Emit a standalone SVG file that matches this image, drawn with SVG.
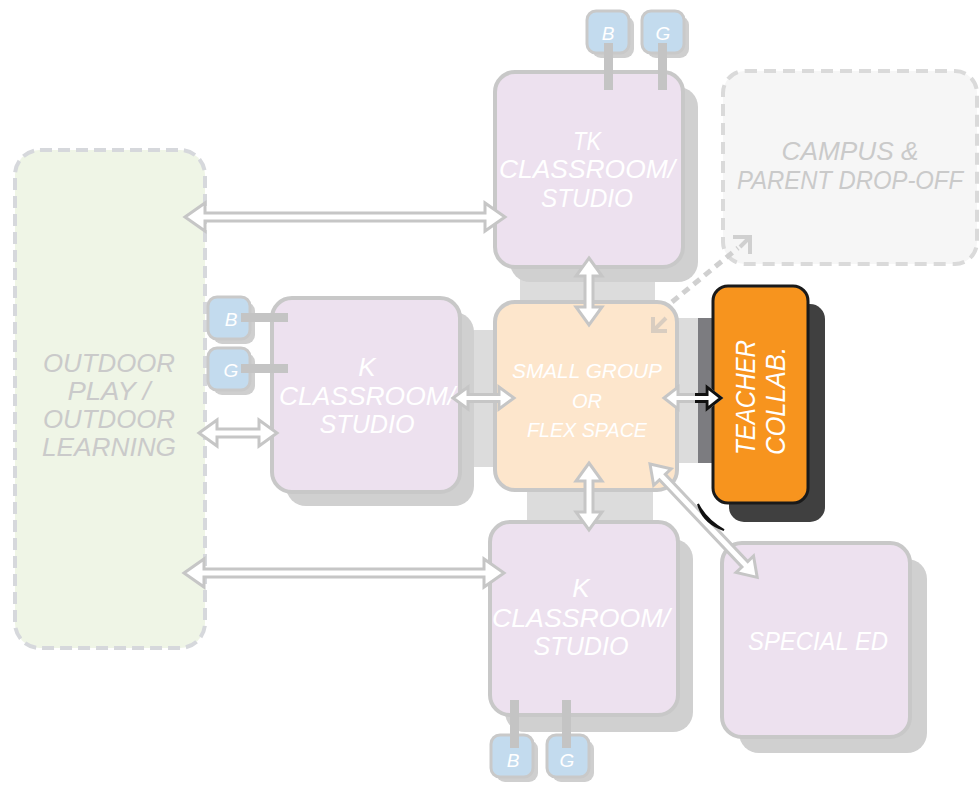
<svg xmlns="http://www.w3.org/2000/svg" width="979" height="786" viewBox="0 0 979 786">
<style>
text{font-family:"Liberation Sans",Arial,sans-serif;font-style:italic;text-anchor:middle}
.room{fill:#ede1ef;stroke:#c8c8c8;stroke-width:4}
.shadow{fill:#d0d0d0}
.wt{fill:#ffffff;font-size:26px}
.sg{fill:#ffffff;font-size:21px}
.corr{fill:#dcdcdc}
.arr{fill:#ffffff;stroke:#c6c6c6;stroke-width:3;stroke-linejoin:miter}
.badge{fill:#c3dbee;stroke:#c9c9c9;stroke-width:3}
.bsh{fill:#cfcfcf}
.stem{fill:#c4c4c4}
.bl{fill:#ffffff;font-size:19px}
.gt{fill:#cacaca;font-size:26px}
</style>
<rect width="979" height="786" fill="#ffffff"/>

<g id="corridors">
<rect class="corr" x="520" y="262" width="135" height="42"/>
<rect class="corr" x="527" y="488" width="126" height="36"/>
<rect class="corr" x="458" y="330" width="38" height="137"/>
<rect class="corr" x="676" y="318" width="24" height="145"/>
<rect x="698" y="318" width="16" height="145" fill="#7c7c80"/>
</g>

<g id="outdoor">
<rect x="15" y="150" width="190" height="498" rx="25" fill="#eff5e6" stroke="#d6d8dc" stroke-width="4" stroke-dasharray="12 6"/>
<text class="gt" x="109" y="372" textLength="132" lengthAdjust="spacingAndGlyphs">OUTDOOR</text>
<text class="gt" x="109" y="400" textLength="83" lengthAdjust="spacingAndGlyphs">PLAY /</text>
<text class="gt" x="109" y="428" textLength="132" lengthAdjust="spacingAndGlyphs">OUTDOOR</text>
<text class="gt" x="109" y="456" textLength="134" lengthAdjust="spacingAndGlyphs">LEARNING</text>
</g>

<g id="campus">
<rect x="723" y="71" width="254" height="193" rx="22" fill="#f6f6f6" stroke="#dadada" stroke-width="4" stroke-dasharray="12 7"/>
<text class="gt" x="850" y="160" fill="#cfcfcf" textLength="137" lengthAdjust="spacingAndGlyphs">CAMPUS &amp;</text>
<text class="gt" x="850" y="189" fill="#cfcfcf" style="font-size:25px" textLength="226" lengthAdjust="spacingAndGlyphs">PARENT DROP-OFF</text>
</g>

<g id="tk-classroom">
<rect class="shadow" x="510" y="87" width="188" height="195" rx="20"/>
<rect class="room" x="495" y="72" width="188" height="195" rx="20"/>
<text class="wt" x="587" y="150" textLength="28" lengthAdjust="spacingAndGlyphs">TK</text>
<text class="wt" x="587" y="178" textLength="176" lengthAdjust="spacingAndGlyphs">CLASSROOM/</text>
<text class="wt" x="587" y="207" textLength="92" lengthAdjust="spacingAndGlyphs">STUDIO</text>
</g>

<g id="k-classroom-left">
<rect class="shadow" x="286" y="312" width="188" height="194" rx="20"/>
<rect class="room" x="272" y="298" width="188" height="194" rx="20"/>
<text class="wt" x="367" y="376">K</text>
<text class="wt" x="367" y="405" textLength="176" lengthAdjust="spacingAndGlyphs">CLASSROOM/</text>
<text class="wt" x="367" y="433" textLength="95" lengthAdjust="spacingAndGlyphs">STUDIO</text>
</g>

<g id="small-group">
<rect x="495" y="302" width="182" height="188" rx="20" fill="#fde6cc" stroke="#c8c8c8" stroke-width="4"/>
<text class="sg" x="587" y="378" textLength="150" lengthAdjust="spacingAndGlyphs">SMALL GROUP</text>
<text class="sg" x="587" y="408" textLength="30" lengthAdjust="spacingAndGlyphs">OR</text>
<text class="sg" x="587" y="437" textLength="120" lengthAdjust="spacingAndGlyphs">FLEX SPACE</text>
<path d="M653,317 V331 H667 M653,331 L666,318" fill="none" stroke="#d9cdc0" stroke-width="4"/>
</g>

<g id="k-classroom-bottom">
<rect class="shadow" x="505" y="539" width="188" height="193" rx="20"/>
<rect class="room" x="490" y="522" width="188" height="193" rx="20"/>
<text class="wt" x="581" y="597">K</text>
<text class="wt" x="581" y="627" textLength="178" lengthAdjust="spacingAndGlyphs">CLASSROOM/</text>
<text class="wt" x="581" y="655" textLength="95" lengthAdjust="spacingAndGlyphs">STUDIO</text>
</g>

<g id="special-ed">
<rect class="shadow" x="739" y="559" width="188" height="194" rx="20"/>
<rect class="room" x="722" y="543" width="188" height="194" rx="20"/>
<text class="wt" x="818" y="650" textLength="140" lengthAdjust="spacingAndGlyphs">SPECIAL ED</text>
</g>

<g id="teacher-collab">
<rect x="729" y="304" width="96" height="218" rx="15" fill="#404040"/>
<rect x="713" y="286" width="95" height="217" rx="15" fill="#f7941e" stroke="#1a1a1a" stroke-width="3"/>
<text class="wt" transform="translate(755,455) rotate(-90)" style="text-anchor:start;font-size:27px" textLength="115" lengthAdjust="spacingAndGlyphs">TEACHER</text>
<text class="wt" transform="translate(785,455) rotate(-90)" style="text-anchor:start;font-size:27px" textLength="108" lengthAdjust="spacingAndGlyphs">COLLAB.</text>
</g>

<g id="badges-tk">
<rect class="bsh" x="592" y="16" width="42" height="42" rx="9"/>
<rect class="badge" x="587" y="11" width="42" height="42" rx="9"/>
<rect class="bsh" x="647" y="16" width="42" height="42" rx="9"/>
<rect class="badge" x="642" y="11" width="42" height="42" rx="9"/>
<rect class="stem" x="604" y="43" width="9" height="47"/>
<rect class="stem" x="658" y="43" width="9" height="47"/>
<text class="bl" x="608" y="40">B</text>
<text class="bl" x="663" y="40">G</text>
</g>

<g id="badges-left">
<rect class="bsh" x="213" y="302" width="42" height="42" rx="9"/>
<rect class="badge" x="208" y="297" width="42" height="42" rx="9"/>
<rect class="bsh" x="213" y="353" width="42" height="42" rx="9"/>
<rect class="badge" x="208" y="348" width="42" height="42" rx="9"/>
<rect class="stem" x="241" y="313" width="47" height="9"/>
<rect class="stem" x="241" y="364" width="47" height="9"/>
<text class="bl" x="231" y="326">B</text>
<text class="bl" x="231" y="377">G</text>
</g>

<g id="badges-bottom">
<rect class="bsh" x="496" y="740" width="42" height="42" rx="9"/>
<rect class="badge" x="491" y="735" width="42" height="42" rx="9"/>
<rect class="bsh" x="552" y="740" width="42" height="42" rx="9"/>
<rect class="badge" x="547" y="735" width="42" height="42" rx="9"/>
<rect class="stem" x="510" y="700" width="9" height="48"/>
<rect class="stem" x="562" y="700" width="9" height="48"/>
<text class="bl" x="513" y="767">B</text>
<text class="bl" x="567" y="767">G</text>
</g>

<g id="connectors">
<polygon class="arr" points="185,217 205,203 205,213 485,213 485,203 505,217 485,231 485,221 205,221 205,231"/>
<polygon class="arr" points="199,433 217,420 217,429 259,429 259,420 277,433 259,446 259,437 217,437 217,446"/>
<polygon class="arr" points="453,398 468,387 468,394.5 499,394.5 499,387 514,398 499,409 499,401.5 468,401.5 468,409"/>
<polygon class="arr" points="589,258 602,276 593,276 593,307 602,307 589,325 576,307 585,307 585,276 576,276"/>
<polygon class="arr" points="589,463 602,481 593,481 593,512 602,512 589,530 576,512 585,512 585,481 576,481"/>
<polygon class="arr" points="184,573 204,559 204,569 484,569 484,559 504,573 484,587 484,577 204,577 204,587"/>
<polygon class="arr" points="664,398 678,387 678,394.5 707,394.5 707,387 721,398 707,409 707,401.5 678,401.5 678,409"/>
<path d="M695,394.5 L707,394.5 L707,387 L721,398 L707,409 L707,401.5 L695,401.5" fill="#ffffff" stroke="#111111" stroke-width="3"/>
<polygon class="arr" transform="translate(650,464) rotate(46.6)" points="0,0 18,-12 18,-4 138,-4 138,-12 156,0 138,12 138,4 18,4 18,12"/>
<path d="M672,302 L738,248" fill="none" stroke="#d0d0d0" stroke-width="5" stroke-dasharray="8 6"/>
<path d="M733,237 H750 V254 M750,237 L740,247" fill="none" stroke="#d0d0d0" stroke-width="4"/>
<path d="M698,504 Q703,523 724,530 Q706,520 698,504 Z" fill="#111111" stroke="#111111" stroke-width="2"/>
</g>
</svg>
